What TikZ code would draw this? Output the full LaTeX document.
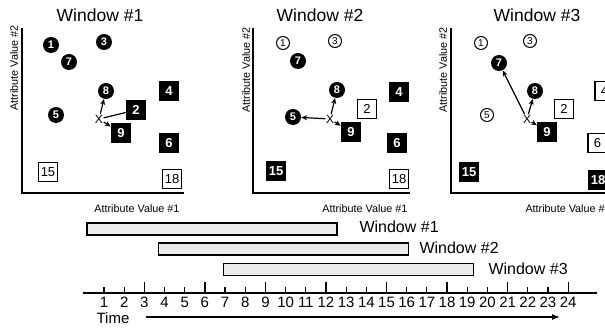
\documentclass[tikz,border=0pt]{standalone}
\usepackage{fontspec}
\setmainfont{Liberation Sans}
\usetikzlibrary{arrows.meta}
\tikzset{
  bdot/.style={circle, fill=black, text=white, inner sep=0pt, minimum size=16pt, font=\fontsize{11}{11}\selectfont\bfseries},
  wdot/.style={circle, draw=black, line width=1pt, fill=white, inner sep=0pt, minimum size=13pt, font=\fontsize{10}{10}\selectfont},
  bbox/.style={rectangle, fill=black, text=white, inner sep=0pt, minimum size=20pt, font=\fontsize{13}{13}\selectfont\bfseries},
  wbox/.style={rectangle, draw=black, line width=1.2pt, fill=white, inner sep=0pt, minimum size=19pt, font=\fontsize{13}{13}\selectfont},
  xmark/.style={inner sep=0.5pt, font=\fontsize{12}{12}\selectfont},
  axis/.style={line width=1.5pt},
  ptr/.style={-{Stealth[length=6pt,width=5pt]}, line width=1.2pt},
  wbar/.style={rectangle, draw=black, line width=1.2pt, fill=gray!15, inner sep=0pt, minimum width=250pt, minimum height=12pt},
  ttl/.style={font=\fontsize{17.5}{17.5}\selectfont},
  alab/.style={font=\fontsize{10.8}{10.8}\selectfont},
  blab/.style={anchor=west, font=\fontsize{16}{16}\selectfont},
}
\begin{document}
\begin{tikzpicture}[x=1pt, y=-1pt]
    \useasboundingbox (0,0) rectangle (605,328);
    \clip (0,0) rectangle (605,328);

    % Window #1 panel
    \node[ttl] (t1) at (100,15) {Window \#1};
    \draw[axis] (22,28) -- (22,193) -- (184,193);
    \node[alab, rotate=90] (y1) at (14,68) {Attribute Value \#2};
    \node[alab, anchor=east] (x1) at (183,209) {Attribute Value \#1};
    \node[bdot] (a1) at (51,45) {1};
    \node[bdot] (a3) at (104,42) {3};
    \node[bdot] (a7) at (69,62) {7};
    \node[bdot] (a8) at (106,91) {8};
    \node[bdot] (a5) at (56,115) {5};
    \node[bbox] (a2) at (136,110) {2};
    \node[bbox] (a4) at (169,91) {4};
    \node[bbox] (a9) at (121,133) {9};
    \node[bbox] (a6) at (169,143) {6};
    \node[wbox] (a15) at (48,172) {15};
    \node[wbox] (a18) at (172,179) {18};
    \node[xmark] (ax) at (99,119) {X};
    \draw[ptr] (ax) -- (a8);
    \draw[line width=1.2pt] (ax) -- (a2);
    \draw[ptr] (ax) -- (a9);

    % Window #2 panel
    \node[ttl] (t2) at (320,15) {Window \#2};
    \draw[axis] (253,28) -- (253,193) -- (410,193);
    \node[alab, rotate=90] (y2) at (246,70) {Attribute Value \#2};
    \node[alab, anchor=east] (x2) at (411,209) {Attribute Value \#1};
    \node[wdot] (b1) at (283,43) {1};
    \node[wdot] (b3) at (335,41) {3};
    \node[bdot] (b7) at (298,61) {7};
    \node[bdot] (b8) at (337,90) {8};
    \node[bdot] (b5) at (293,117) {5};
    \node[wbox] (b2) at (367,109) {2};
    \node[bbox] (b4) at (399,92) {4};
    \node[bbox] (b9) at (351,132) {9};
    \node[bbox] (b6) at (397,143) {6};
    \node[bbox] (b15) at (276,171) {15};
    \node[wbox] (b18) at (399,179) {18};
    \node[xmark] (bx) at (330,119) {X};
    \draw[ptr] (bx) -- (b5);
    \draw[ptr] (bx) -- (b8);
    \draw[ptr] (bx) -- (b9);

    % Window #3 panel (cut at the right edge)
    \node[ttl] (t3) at (537,15) {Window \#3};
    \draw[axis] (451,28) -- (451,193) -- (640,193);
    \node[alab, rotate=90] (y3) at (443,70) {Attribute Value \#2};
    \node[alab, anchor=west] (x3) at (522,209) {Attribute Value \#1};
    \node[wdot] (c1) at (481,43) {1};
    \node[wdot] (c3) at (530,41) {3};
    \node[bdot] (c7) at (499,63) {7};
    \node[bdot] (c8) at (535,91) {8};
    \node[wdot] (c5) at (487,115) {5};
    \node[wbox] (c2) at (564,109) {2};
    \node[wbox] (c4) at (604.5,91) {4};
    \node[bbox] (c9) at (547,132) {9};
    \node[wbox] (c6) at (597.5,143) {6};
    \node[bbox] (c15) at (469,172) {15};
    \node[bbox] (c18) at (598,180) {18};
    \node[xmark] (cx) at (527,119) {X};
    \draw[ptr] (cx) -- (c7);
    \draw[ptr] (cx) -- (c8);
    \draw[ptr] (cx) -- (c9);

    % Sliding windows
    \node[wbar] (w1) at (212,229) {};
    \node[wbar] (w2) at (283.5,249) {};
    \node[wbar] (w3) at (348.5,269.5) {};
    \node[blab] (l1) at (356,227) {Window \#1};
    \node[blab] (l2) at (416,248) {Window \#2};
    \node[blab] (l3) at (485,269) {Window \#3};

    % Time axis
    \draw[line width=1.2pt] (83,293) -- (597,293);
    \foreach \i in {1,...,24} {
        \pgfmathsetmacro{\tx}{104+20.18*(\i-1)}
        \pgfmathtruncatemacro{\big}{mod(\i,3)==0}
        \ifnum\big=1
            \draw[line width=1.2pt] (\tx,282) -- (\tx,293);
        \else
            \draw[line width=1.2pt] (\tx,287) -- (\tx,293);
        \fi
        \node[font=\fontsize{15}{15}\selectfont, inner sep=0pt] (n\i) at (\tx,302) {\i};
    }
    \node[font=\fontsize{15}{15}\selectfont, inner sep=0pt] (time) at (113,318) {Time};
    \coordinate (tend) at (560,317);
    \draw[line width=1.2pt, -{Latex[length=8pt,width=6pt]}] (146,317) -- (tend);
\end{tikzpicture}
\end{document}
